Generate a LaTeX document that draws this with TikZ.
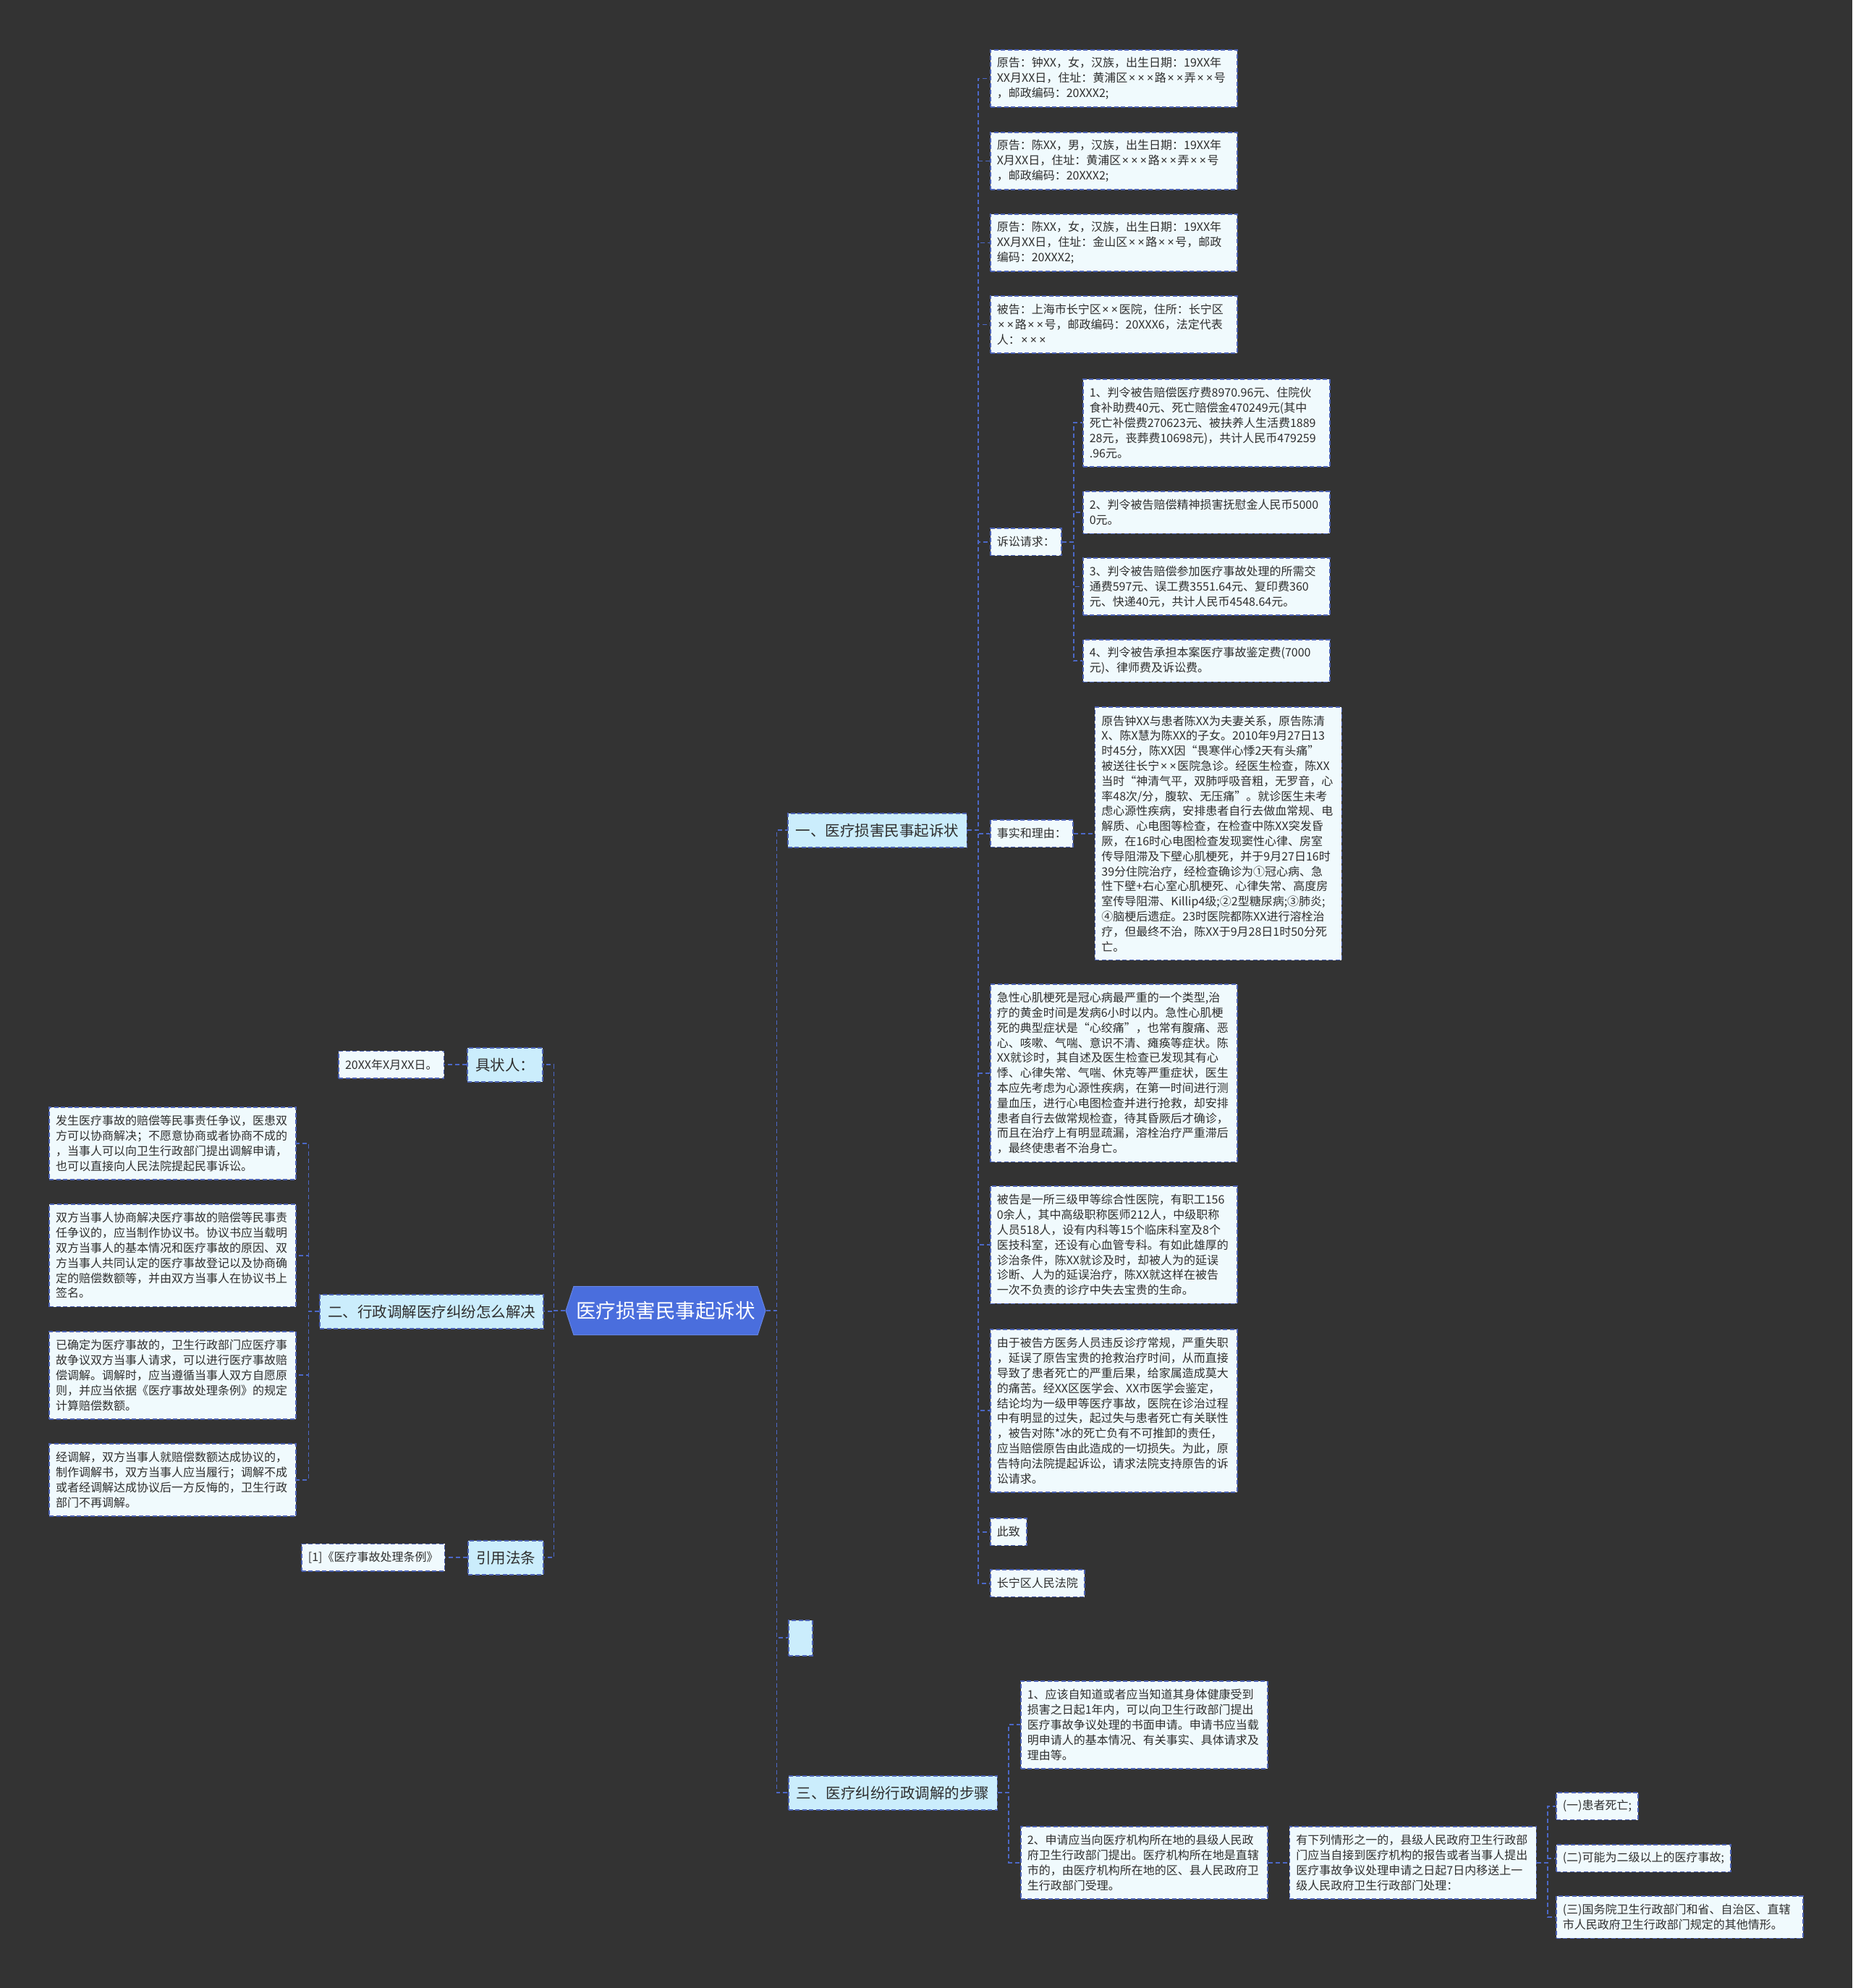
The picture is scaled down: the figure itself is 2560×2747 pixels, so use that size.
\documentclass[tikz,border=0pt]{standalone}
\usepackage{fontspec}
\setmainfont{Noto Sans CJK SC}
\newfontfamily\latfont{Noto Sans}
\newcommand{\mx}{\makebox[0.78em]{\latfont ×}}
\usetikzlibrary{positioning,shapes.symbols}
\definecolor{bg}{HTML}{333333}
\definecolor{rootblue}{HTML}{4A6EDD}
\definecolor{topicfill}{HTML}{CBEDFC}
\definecolor{leaffill}{HTML}{F0FAFD}
\definecolor{rim}{HTML}{4C62B4}
\definecolor{linkblue}{HTML}{4C68C8}
\definecolor{ink}{HTML}{2E2E2E}
\tikzset{
  root/.style={shape=signal, signal to=west and east, signal pointer angle=144,
    fill=rootblue, draw=rootblue!85!white, line width=1pt, text=white,
    font=\fontsize{27.5pt}{30pt}\selectfont, minimum width=276pt, minimum height=67pt, inner sep=0pt},
  topic/.style={draw=rim, dash pattern=on 6pt off 3.5pt, line width=1.6pt, fill=topicfill,
    text=ink, font=\fontsize{20.5pt}{24pt}\selectfont, inner xsep=11pt, inner ysep=0pt,
    minimum height=47pt, anchor=north west},
  leaf/.style={draw=rim, dash pattern=on 6pt off 3.5pt, line width=1.6pt, fill=leaffill,
    text=ink, font=\fontsize{16pt}{20.8pt}\selectfont, align=left, inner xsep=9pt, inner ysep=0pt,
    anchor=north west},
  wbox/.style={text width=323pt},
  nl/.style={minimum height=#1*20.8pt+17pt},
  link/.style={draw=linkblue, dash pattern=on 6pt off 4pt, line width=1.8pt},
}

\begin{document}
\begin{tikzpicture}[x=1pt, y=-1pt]
  \fill[bg] (0,0) rectangle (2560,2747);
  \useasboundingbox (0,0) rectangle (2560,2747);

  \node[root] (root) at (920,1811) {医疗损害民事起诉状};

  % 右侧
  \node[topic] (t1) at (1088,1123) {一、医疗损害民事起诉状};
  \node[topic, minimum width=33pt, minimum height=49pt] (t0) at (1089,2238) {};
  \node[topic] (t3) at (1089,2453) {三、医疗纠纷行政调解的步骤};

  \node[leaf, wbox, nl=3] (p1) at (1368,68) {原告：钟XX，女，汉族，出生日期：19XX年\\XX月XX日，住址：黄浦区\mx\mx\mx{}路\mx\mx{}弄\mx\mx{}号\\，邮政编码：20XXX2;};
  \node[leaf, wbox, nl=3] (p2) at (1368,182) {原告：陈XX，男，汉族，出生日期：19XX年\\X月XX日，住址：黄浦区\mx\mx\mx{}路\mx\mx{}弄\mx\mx{}号\\，邮政编码：20XXX2;};
  \node[leaf, wbox, nl=3] (p3) at (1368,295) {原告：陈XX，女，汉族，出生日期：19XX年\\XX月XX日，住址：金山区\mx\mx{}路\mx\mx{}号，邮政\\编码：20XXX2;};
  \node[leaf, wbox, nl=3] (p4) at (1368,408) {被告：上海市长宁区\mx\mx{}医院，住所：长宁区\\\mx\mx{}路\mx\mx{}号，邮政编码：20XXX6，法定代表\\人：\mx\mx\mx};

  \node[leaf, nl=1] (req) at (1368,729) {诉讼请求：};
  \node[leaf, wbox, nl=5] (r1) at (1496,523) {1、判令被告赔偿医疗费8970.96元、住院伙\\食补助费40元、死亡赔偿金470249元(其中\\死亡补偿费270623元、被扶养人生活费1889\\28元，丧葬费10698元)，共计人民币479259\\.96元。};
  \node[leaf, wbox, nl=2] (r2) at (1496,678) {2、判令被告赔偿精神损害抚慰金人民币5000\\0元。};
  \node[leaf, wbox, nl=3] (r3) at (1496,770) {3、判令被告赔偿参加医疗事故处理的所需交\\通费597元、误工费3551.64元、复印费360\\元、快递40元，共计人民币4548.64元。};
  \node[leaf, wbox, nl=2] (r4) at (1496,883) {4、判令被告承担本案医疗事故鉴定费(7000\\元)、律师费及诉讼费。};

  \node[leaf, nl=1] (facts) at (1368,1132) {事实和理由：};
  \node[leaf, wbox, nl=16, right=29pt of facts] (fa) {原告钟XX与患者陈XX为夫妻关系，原告陈清\\X、陈X慧为陈XX的子女。2010年9月27日13\\时45分，陈XX因“畏寒伴心悸2天有头痛”\\被送往长宁\mx\mx{}医院急诊。经医生检查，陈XX\\当时“神清气平，双肺呼吸音粗，无罗音，心\\率48次/分，腹软、无压痛”。就诊医生未考\\虑心源性疾病，安排患者自行去做血常规、电\\解质、心电图等检查，在检查中陈XX突发昏\\厥，在16时心电图检查发现窦性心律、房室\\传导阻滞及下壁心肌梗死，并于9月27日16时\\39分住院治疗，经检查确诊为①冠心病、急\\性下壁+右心室心肌梗死、心律失常、高度房\\室传导阻滞、Killip4级;②2型糖尿病;③肺炎;\\④脑梗后遗症。23时医院都陈XX进行溶栓治\\疗，但最终不治，陈XX于9月28日1时50分死\\亡。};

  \node[leaf, wbox, nl=11] (c1) at (1368,1359) {急性心肌梗死是冠心病最严重的一个类型,治\\疗的黄金时间是发病6小时以内。急性心肌梗\\死的典型症状是“心绞痛”，也常有腹痛、恶\\心、咳嗽、气喘、意识不清、瘫痪等症状。陈\\XX就诊时，其自述及医生检查已发现其有心\\悸、心律失常、气喘、休克等严重症状，医生\\本应先考虑为心源性疾病，在第一时间进行测\\量血压，进行心电图检查并进行抢救，却安排\\患者自行去做常规检查，待其昏厥后才确诊，\\而且在治疗上有明显疏漏，溶栓治疗严重滞后\\，最终使患者不治身亡。};
  \node[leaf, wbox, nl=7] (c2) at (1368,1638) {被告是一所三级甲等综合性医院，有职工156\\0余人，其中高级职称医师212人，中级职称\\人员518人，设有内科等15个临床科室及8个\\医技科室，还设有心血管专科。有如此雄厚的\\诊治条件，陈XX就诊及时，却被人为的延误\\诊断、人为的延误治疗，陈XX就这样在被告\\一次不负责的诊疗中失去宝贵的生命。};
  \node[leaf, wbox, nl=10] (c3) at (1368,1836) {由于被告方医务人员违反诊疗常规，严重失职\\，延误了原告宝贵的抢救治疗时间，从而直接\\导致了患者死亡的严重后果，给家属造成莫大\\的痛苦。经XX区医学会、XX市医学会鉴定，\\结论均为一级甲等医疗事故，医院在诊治过程\\中有明显的过失，起过失与患者死亡有关联性\\，被告对陈*冰的死亡负有不可推卸的责任，\\应当赔偿原告由此造成的一切损失。为此，原\\告特向法院提起诉讼，请求法院支持原告的诉\\讼请求。};
  \node[leaf, nl=1] (zhi) at (1368,2097) {此致};
  \node[leaf, nl=1] (court) at (1368,2168) {长宁区人民法院};

  \node[leaf, wbox, nl=5] (s1) at (1410,2322) {1、应该自知道或者应当知道其身体健康受到\\损害之日起1年内，可以向卫生行政部门提出\\医疗事故争议处理的书面申请。申请书应当载\\明申请人的基本情况、有关事实、具体请求及\\理由等。};
  \node[leaf, wbox, nl=4] (s2) at (1410,2523) {2、申请应当向医疗机构所在地的县级人民政\\府卫生行政部门提出。医疗机构所在地是直辖\\市的，由医疗机构所在地的区、县人民政府卫\\生行政部门受理。};
  \node[leaf, wbox, nl=4, right=29pt of s2] (q) {有下列情形之一的，县级人民政府卫生行政部\\门应当自接到医疗机构的报告或者当事人提出\\医疗事故争议处理申请之日起7日内移送上一\\级人民政府卫生行政部门处理：};
  \node[leaf, nl=1] (q1) at (2150,2476) {(一)患者死亡;};
  \node[leaf, nl=1] (q2) at (2150,2548) {(二)可能为二级以上的医疗事故;};
  \node[leaf, wbox, nl=2] (q3) at (2150,2619) {(三)国务院卫生行政部门和省、自治区、直辖\\市人民政府卫生行政部门规定的其他情形。};

  % 左侧
  \node[topic, anchor=north east] (jzr) at (751,1447) {具状人：};
  \node[topic, anchor=north east] (t2) at (752,1788) {二、行政调解医疗纠纷怎么解决};
  \node[topic, anchor=north east] (yfft) at (752,2128) {引用法条};
  \node[leaf, nl=1, left=31pt of jzr] (date) {20XX年X月XX日。};
  \node[leaf, nl=1, left=31pt of yfft] (law) {[1]《医疗事故处理条例》};

  \node[leaf, wbox, nl=4, anchor=north east] (l1) at (410,1529) {发生医疗事故的赔偿等民事责任争议，医患双\\方可以协商解决；不愿意协商或者协商不成的\\，当事人可以向卫生行政部门提出调解申请，\\也可以直接向人民法院提起民事诉讼。};
  \node[leaf, wbox, nl=6, anchor=north east] (l2) at (410,1663) {双方当事人协商解决医疗事故的赔偿等民事责\\任争议的，应当制作协议书。协议书应当载明\\双方当事人的基本情况和医疗事故的原因、双\\方当事人共同认定的医疗事故登记以及协商确\\定的赔偿数额等，并由双方当事人在协议书上\\签名。};
  \node[leaf, wbox, nl=5, anchor=north east] (l3) at (410,1839) {已确定为医疗事故的，卫生行政部门应医疗事\\故争议双方当事人请求，可以进行医疗事故赔\\偿调解。调解时，应当遵循当事人双方自愿原\\则，并应当依据《医疗事故处理条例》的规定\\计算赔偿数额。};
  \node[leaf, wbox, nl=4, anchor=north east] (l4) at (410,1994) {经调解，双方当事人就赔偿数额达成协议的，\\制作调解书，双方当事人应当履行；调解不成\\或者经调解达成协议后一方反悔的，卫生行政\\部门不再调解。};

  % 连线
  \draw[link] (root.east) -- ++(15,0) |- (t1.west);
  \draw[link] (root.east) -- ++(15,0) |- (t0.west);
  \draw[link] (root.east) -- ++(15,0) |- (t3.west);
  \draw[link] (root.west) -- ++(-16,0) |- (jzr.east);
  \draw[link] (root.west) -- ++(-16,0) |- (t2.east);
  \draw[link] (root.west) -- ++(-16,0) |- (yfft.east);

  \draw[link] (t1.east) -- ++(15,0) |- (p1.west);
  \draw[link] (t1.east) -- ++(15,0) |- (p2.west);
  \draw[link] (t1.east) -- ++(15,0) |- (p3.west);
  \draw[link] (t1.east) -- ++(15,0) |- (p4.west);
  \draw[link] (t1.east) -- ++(15,0) |- (req.west);
  \draw[link] (t1.east) -- ++(15,0) |- (facts.west);
  \draw[link] (t1.east) -- ++(15,0) |- (c1.west);
  \draw[link] (t1.east) -- ++(15,0) |- (c2.west);
  \draw[link] (t1.east) -- ++(15,0) |- (c3.west);
  \draw[link] (t1.east) -- ++(15,0) |- (zhi.west);
  \draw[link] (t1.east) -- ++(15,0) |- (court.west);
  \draw[link] (req.east) -- ++(16,0) |- (r1.west);
  \draw[link] (req.east) -- ++(16,0) |- (r2.west);
  \draw[link] (req.east) -- ++(16,0) |- (r3.west);
  \draw[link] (req.east) -- ++(16,0) |- (r4.west);
  \draw[link] (facts.east) -- (fa.west);

  \draw[link] (t3.east) -- ++(15,0) |- (s1.west);
  \draw[link] (t3.east) -- ++(15,0) |- (s2.west);
  \draw[link] (s2.east) -- (q.west);
  \draw[link] (q.east) -- ++(15,0) |- (q1.west);
  \draw[link] (q.east) -- ++(15,0) |- (q2.west);
  \draw[link] (q.east) -- ++(15,0) |- (q3.west);

  \draw[link] (jzr.west) -- (date.east);
  \draw[link] (t2.west) -- ++(-15,0) |- (l1.east);
  \draw[link] (t2.west) -- ++(-15,0) |- (l2.east);
  \draw[link] (t2.west) -- ++(-15,0) |- (l3.east);
  \draw[link] (t2.west) -- ++(-15,0) |- (l4.east);
  \draw[link] (yfft.west) -- (law.east);
\end{tikzpicture}
\end{document}
